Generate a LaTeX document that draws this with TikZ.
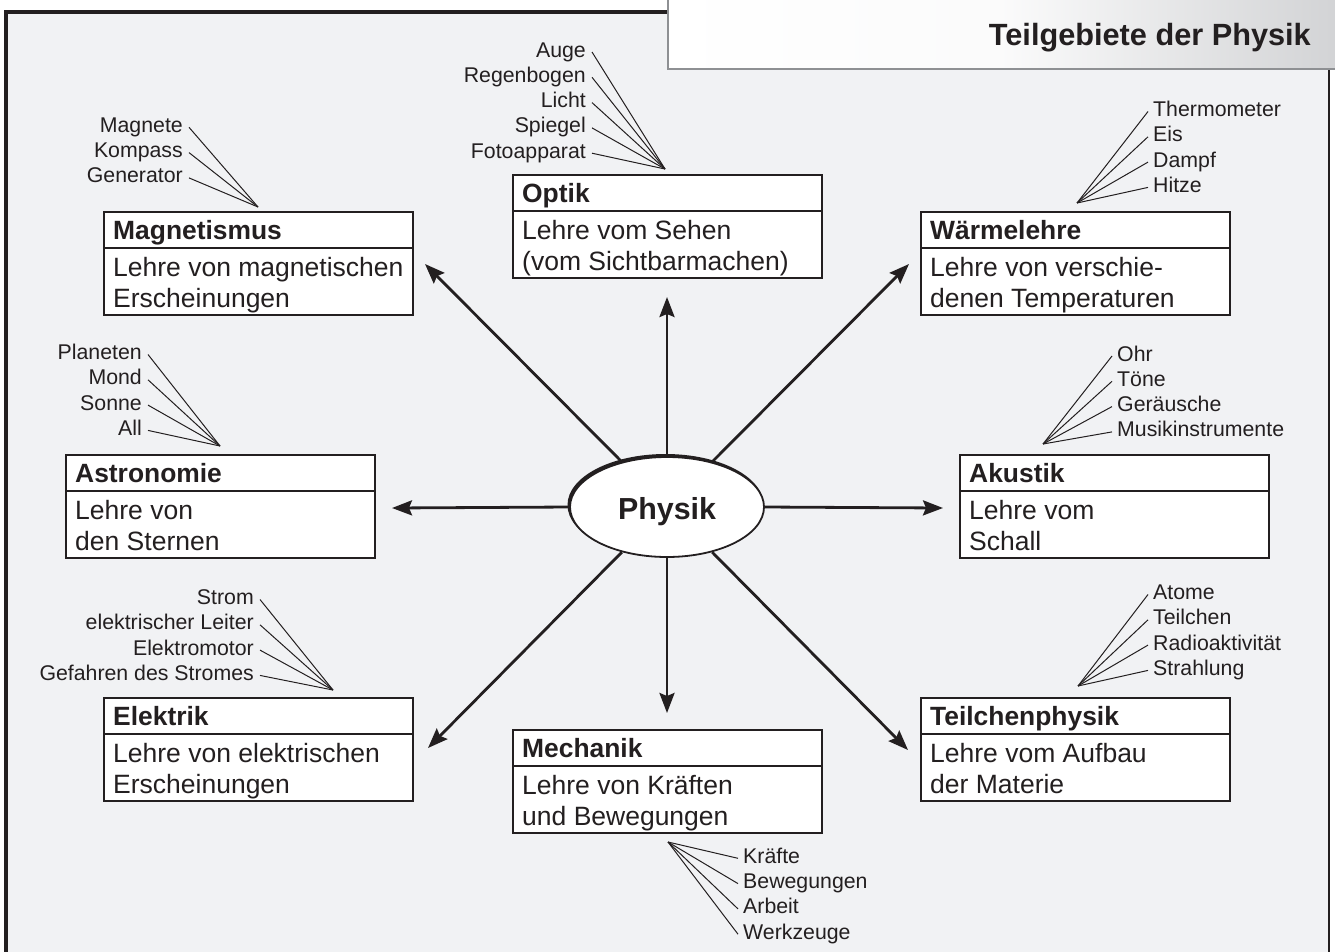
\documentclass[tikz,border=0pt]{standalone}
\usepackage{fontspec}
\setmainfont{Liberation Sans}
\usetikzlibrary{shapes.geometric,arrows.meta}
\definecolor{ink}{HTML}{231F20}
\definecolor{bg}{HTML}{F1F2F4}
\definecolor{hdrborder}{HTML}{8E9093}
\definecolor{hdrgray}{HTML}{D2D3D5}
\tikzset{
  box/.style={draw=ink, line width=1.5pt, fill=white, minimum width=309pt, minimum height=103pt, inner sep=0pt, outer sep=0pt, anchor=north west},
  divider/.style={draw=ink, line width=1.5pt},
  boxtitle/.style={font=\fontsize{26.4}{30}\selectfont\bfseries, text=ink, inner sep=0pt, anchor=base west},
  boxbody/.style={font=\fontsize{26.5}{30}\selectfont, text=ink, inner sep=0pt, anchor=base west},
  lblR/.style={font=\fontsize{21.3}{25}\selectfont, text=ink, inner sep=0pt, anchor=base east},
  lblL/.style={font=\fontsize{21.3}{25}\selectfont, text=ink, inner sep=0pt, anchor=base west},
  leader/.style={draw=ink, line width=1pt},
  mainarrow/.style={draw=ink, line width=2.8pt, -{Stealth[length=20pt,width=15pt,inset=3pt]}},
}
\newcommand{\pbox}[6]{%
  \node[box] (#1) at (#2,#3) {};
  \draw[divider] ([yshift=-36pt]#1.north west) -- ([yshift=-36pt]#1.north east);
  \node[boxtitle] (#1t) at ([xshift=9pt,yshift=-27pt]#1.north west) {#4};
  \node[boxbody] (#1a) at ([xshift=9pt,yshift=-64pt]#1.north west) {#5};
  \node[boxbody] (#1b) at ([xshift=9pt,yshift=-95pt]#1.north west) {#6};
}
\newcommand{\labR}[5]{%
  \node[lblR] (#1) at (#2,#3) {#4};
  \draw[leader] ([xshift=6pt,yshift=5pt]#1.base east) -- (#5);
}
\newcommand{\labL}[5]{%
  \node[lblL] (#1) at (#2,#3) {#4};
  \draw[leader] ([xshift=-5pt,yshift=5pt]#1.base west) -- (#5);
}
\begin{document}
\begin{tikzpicture}[x=1pt,y=-1pt]
\useasboundingbox (0,0) rectangle (1335,951);
% frame
\fill[bg] (4,10) rectangle (1329,955);
\draw[ink, line width=2pt] (5,960) -- (5,11) -- (1329,11) -- (1329,960);
\draw[ink, line width=4pt] (5.5,960) -- (5.5,11.5) -- (700,11.5);
% header
\shade[left color=white, right color=hdrgray, middle color=white!90!hdrgray] (668,-2) rectangle (1340,69);
\draw[hdrborder, line width=2pt] (668,-2) -- (668,69) -- (1340,69);
\node[font=\fontsize{30.7}{34}\selectfont\bfseries, text=ink, inner sep=0pt, anchor=base east] (title) at (1311,45) {Teilgebiete der Physik};
% central ellipse
\node[ellipse, fill=ink, minimum width=196pt, minimum height=102pt, inner sep=0pt] (physsh) at (665.5,505) {};
\node[ellipse, draw=ink, line width=1.8pt, fill=white, minimum width=194pt, minimum height=100pt, inner sep=0pt,
      font=\fontsize{30.4}{34}\selectfont\bfseries, text=ink, text height=25pt, text depth=0pt] (phys) at (667,507) {Physik};
% boxes
\pbox{mag}{104}{212}{Magnetismus}{Lehre von magnetischen}{Erscheinungen}
\pbox{opt}{513}{175}{Optik}{Lehre vom Sehen}{(vom Sichtbarmachen)}
\pbox{waer}{921}{212}{Wärmelehre}{Lehre von verschie-}{denen Temperaturen}
\pbox{ast}{66}{455}{Astronomie}{Lehre von}{den Sternen}
\pbox{aku}{960}{455}{Akustik}{Lehre vom}{Schall}
\pbox{ele}{104}{698}{Elektrik}{Lehre von elektrischen}{Erscheinungen}
\pbox{mech}{513}{730}{Mechanik}{Lehre von Kräften}{und Bewegungen}
\pbox{teil}{921}{698}{Teilchenphysik}{Lehre vom Aufbau}{der Materie}
% arrow tips
\coordinate (tup) at (667,297);
\coordinate (tdn) at (667,713);
\coordinate (tlf) at (392,508);
\coordinate (trt) at (943,508);
\coordinate (tul) at (425,264);
\coordinate (tur) at (909,264);
\coordinate (tdl) at (428,748);
\coordinate (tdr) at (908,750);
\draw[mainarrow] (phys.90) -- (tup);
\draw[mainarrow] (phys.270) -- (tdn);
\draw[mainarrow] (phys.180) -- (tlf);
\draw[mainarrow] (phys.0) -- (trt);
\draw[mainarrow] (phys.135) -- (tul);
\draw[mainarrow] (phys.45) -- (tur);
\draw[mainarrow] (phys.225) -- (tdl);
\draw[mainarrow] (phys.315) -- (tdr);
% fan points
\coordinate (fmag) at (258,207);
\coordinate (fopt) at (665,169);
\coordinate (fwaer) at (1077,203);
\coordinate (fast) at (220,446);
\coordinate (faku) at (1043,444);
\coordinate (fele) at (333,690);
\coordinate (fteil) at (1078,686);
\coordinate (fmech) at (668,842);
% Magnetismus labels
\labR{m1}{183}{132.3}{Magnete}{fmag}
\labR{m2}{183}{157.6}{Kompass}{fmag}
\labR{m3}{183}{182.9}{Generator}{fmag}
% Optik labels
\labR{o1}{586}{57}{Auge}{fopt}
\labR{o2}{586}{82.3}{Regenbogen}{fopt}
\labR{o3}{586}{107.6}{Licht}{fopt}
\labR{o4}{586}{132.9}{Spiegel}{fopt}
\labR{o5}{586}{158.2}{Fotoapparat}{fopt}
% Waermelehre labels
\labL{w1}{1153}{116.5}{Thermometer}{fwaer}
\labL{w2}{1153}{141.8}{Eis}{fwaer}
\labL{w3}{1153}{167.1}{Dampf}{fwaer}
\labL{w4}{1153}{192.4}{Hitze}{fwaer}
% Astronomie labels
\labR{a1}{142}{359.5}{Planeten}{fast}
\labR{a2}{142}{384.8}{Mond}{fast}
\labR{a3}{142}{410.1}{Sonne}{fast}
\labR{a4}{142}{435.4}{All}{fast}
% Akustik labels
\labL{k1}{1117}{361}{Ohr}{faku}
\labL{k2}{1117}{386.3}{Töne}{faku}
\labL{k3}{1117}{411.6}{Geräusche}{faku}
\labL{k4}{1117}{436.9}{Musikinstrumente}{faku}
% Elektrik labels
\labR{e1}{254}{604.5}{Strom}{fele}
\labR{e2}{254}{629.8}{elektrischer Leiter}{fele}
\labR{e3}{254}{655.1}{Elektromotor}{fele}
\labR{e4}{254}{680.4}{Gefahren des Stromes}{fele}
% Teilchenphysik labels
\labL{t1}{1153}{599.5}{Atome}{fteil}
\labL{t2}{1153}{624.8}{Teilchen}{fteil}
\labL{t3}{1153}{650.1}{Radioaktivität}{fteil}
\labL{t4}{1153}{675.4}{Strahlung}{fteil}
% Mechanik labels
\labL{c1}{743}{863.3}{Kräfte}{fmech}
\labL{c2}{743}{888.6}{Bewegungen}{fmech}
\labL{c3}{743}{913.9}{Arbeit}{fmech}
\labL{c4}{743}{939.2}{Werkzeuge}{fmech}
\end{tikzpicture}
\end{document}
